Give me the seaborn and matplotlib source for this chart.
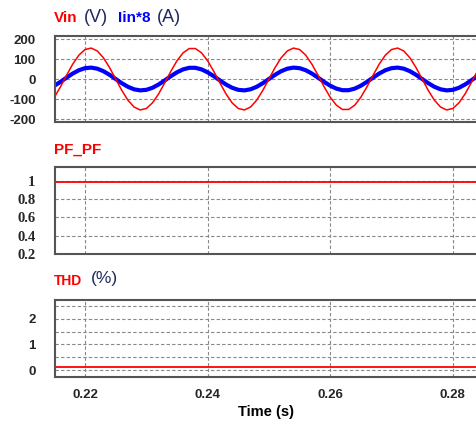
import matplotlib
matplotlib.use('Agg')
import matplotlib.pyplot as plt
import seaborn as sns
import pandas as pd

# ---- data ----
time_s = [0.215, 0.216, 0.217, 0.218, 0.219, 0.220, 0.221, 0.222, 0.223, 0.224,
          0.225, 0.226, 0.227, 0.228, 0.229, 0.230, 0.231, 0.232, 0.233, 0.234,
          0.235, 0.236, 0.237, 0.238, 0.239, 0.240, 0.241, 0.242, 0.243, 0.244,
          0.245, 0.246, 0.247, 0.248, 0.249, 0.250, 0.251, 0.252, 0.253, 0.254,
          0.255, 0.256, 0.257, 0.258, 0.259, 0.260, 0.261, 0.262, 0.263, 0.264,
          0.265, 0.266, 0.267, 0.268, 0.269, 0.270, 0.271, 0.272, 0.273, 0.274,
          0.275, 0.276, 0.277, 0.278, 0.279, 0.280, 0.281, 0.282, 0.283, 0.284,
          0.285]
vin = [-91.1, -38.5, 19.4, 74.7, 119.4, 147.4, 154.7, 140.2, 106.1, 57.1,
       0.0, -57.1, -106.1, -140.2, -154.7, -147.4, -119.4, -74.7, -19.4, 38.5,
       91.1, 130.9, 152.3, 152.3, 130.9, 91.1, 38.5, -19.4, -74.7, -119.4,
       -147.4, -154.7, -140.2, -106.1, -57.1, 0.0, 57.1, 106.1, 140.2, 154.7,
       147.4, 119.4, 74.7, 19.4, -38.5, -91.1, -130.9, -152.3, -152.3, -130.9,
       -91.1, -38.5, 19.4, 74.7, 119.4, 147.4, 154.7, 140.2, 106.1, 57.1,
       0.0, -57.1, -106.1, -140.2, -154.7, -147.4, -119.4, -74.7, -19.4, 38.5,
       91.1]
iin8 = [-33.5, -14.2, 7.1, 27.5, 43.9, 54.2, 56.9, 51.6, 39.0, 21.0,
        0.0, -21.0, -39.0, -51.6, -56.9, -54.2, -43.9, -27.5, -7.1, 14.2,
        33.5, 48.1, 56.0, 56.0, 48.1, 33.5, 14.2, -7.1, -27.5, -43.9,
        -54.2, -56.9, -51.6, -39.0, -21.0, 0.0, 21.0, 39.0, 51.6, 56.9,
        54.2, 43.9, 27.5, 7.1, -14.2, -33.5, -48.1, -56.0, -56.0, -48.1,
        -33.5, -14.2, 7.1, 27.5, 43.9, 54.2, 56.9, 51.6, 39.0, 21.0,
        0.0, -21.0, -39.0, -51.6, -56.9, -54.2, -43.9, -27.5, -7.1, 14.2,
        33.5]
flat_t = [0.215, 0.285]
pf = [0.985, 0.985]
thd = [0.12, 0.12]

xticks = [0.22, 0.24, 0.26, 0.28]
xticklabels = ['0.22', '0.24', '0.26', '0.28']

wave = pd.DataFrame({'t': time_s, 'vin': vin, 'iin': iin8})
flat = pd.DataFrame({'t': flat_t, 'pf': pf, 'thd': thd})

sns.set_style('white')
plt.rcParams['font.family'] = ['Liberation Sans', 'DejaVu Sans']

fig = plt.figure(figsize=(4.77, 4.21), dpi=100)
W, H = 477.0, 421.0
def box(top, bot):
    return [55 / W, 1 - bot / H, (481 - 55) / W, (bot - top) / H]

ax1 = fig.add_axes(box(36, 122))
ax2 = fig.add_axes(box(167, 254))
ax3 = fig.add_axes(box(300, 377))

# current first so the voltage trace sits on top, as on the scope screen
sns.lineplot(data=wave, x='t', y='iin', color='#0000ff', linewidth=3.0, estimator=None, ax=ax1)
sns.lineplot(data=wave, x='t', y='vin', color='#ff0000', linewidth=1.1, estimator=None, ax=ax1)
sns.lineplot(data=flat, x='t', y='pf', color='#ff0000', linewidth=1.3, estimator=None, ax=ax2)
sns.lineplot(data=flat, x='t', y='thd', color='#ff0000', linewidth=1.3, estimator=None, ax=ax3)

ax1.set_ylim(-215, 215)
ax1.set_yticks([-200, -100, 0, 100, 200])
ax1.set_yticklabels(['-200', '-100', '0', '100', '200'])
ax2.set_ylim(0.2, 1.15)
ax2.set_yticks([0.2, 0.4, 0.6, 0.8, 1.0])
ax2.set_yticklabels(['0.2', '0.4', '0.6', '0.8', '1'])
ax3.set_ylim(-0.27, 2.73)
ax3.set_yticks([0, 0.5, 1, 1.5, 2, 2.5])
ax3.set_yticklabels(['0', '', '1', '', '2', ''])

for ax in (ax1, ax2, ax3):
    ax.set_xlim(0.2151, 0.2846)
    ax.set_xticks(xticks)
    ax.set_xlabel('')
    ax.set_ylabel('')
    ax.grid(True, color='#888888', linestyle=(0, (3, 2)), linewidth=0.8)
    ax.set_axisbelow(True)
    for s in ax.spines.values():
        s.set_color('#555555')
        s.set_linewidth(1.5)
    ax.spines['right'].set_visible(False)
    ax.tick_params(length=0, pad=14)
    for lab in ax.get_yticklabels():
        lab.set_fontweight('bold')
        lab.set_fontsize(9.5)

for lab in ax2.get_yticklabels():
    lab.set_family('Liberation Serif')
    lab.set_fontsize(10.5)

ax1.set_xticklabels([])
ax2.set_xticklabels([])
ax3.set_xticklabels(xticklabels, fontweight='bold', fontsize=9.5)
ax3.tick_params(axis='x', pad=9)

unit_col = '#1e2a5e'
fig.text(54 / W, 1 - 18 / H, 'Vin', color='#ff0000', fontweight='bold', fontsize=11, va='center')
fig.text(84 / W, 1 - 18 / H, '(V)', color=unit_col, fontsize=13, va='center')
fig.text(118 / W, 1 - 18 / H, 'Iin*8', color='#0000ff', fontweight='bold', fontsize=11, va='center')
fig.text(157 / W, 1 - 18 / H, '(A)', color=unit_col, fontsize=13, va='center')
fig.text(54 / W, 1 - 150 / H, 'PF_PF', color='#ff0000', fontweight='bold', fontsize=11, va='center')
fig.text(54 / W, 1 - 281 / H, 'THD', color='#ff0000', fontweight='bold', fontsize=10, va='center')
fig.text(91 / W, 1 - 279 / H, '(%)', color=unit_col, fontsize=12.5, va='center')
fig.text(266 / W, 1 - 412 / H, 'Time (s)', color='black', fontweight='bold', fontsize=10.5,
         ha='center', va='center')

fig.savefig('out.png', dpi=100)
plt.close()
